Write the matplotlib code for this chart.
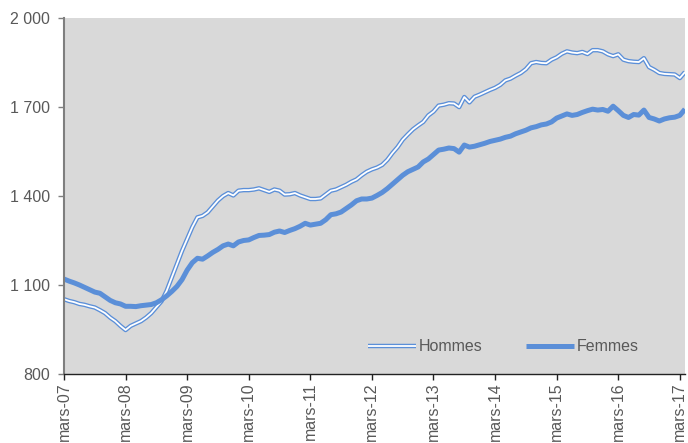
import matplotlib.pyplot as plt
from matplotlib.legend_handler import HandlerTuple

plt.rcParams['font.family'] = ['Liberation Sans', 'DejaVu Sans']

# Monthly values, mars-07 .. avr-17
hommes = [1052, 1046, 1042, 1036, 1033, 1028, 1024, 1015, 1005, 990, 978, 962,
          948, 962, 970, 978, 990, 1005, 1025, 1045, 1080, 1125, 1170, 1215,
          1255, 1295, 1328, 1333, 1345, 1365, 1385, 1400, 1410, 1402, 1418, 1420,
          1420, 1422, 1426, 1420, 1414, 1422, 1418, 1405, 1406, 1410, 1402, 1396,
          1390, 1390, 1392, 1405, 1418, 1422, 1430, 1438, 1448, 1456, 1470, 1482,
          1490, 1496, 1505, 1522, 1545, 1565, 1590, 1608, 1625, 1638, 1650, 1672,
          1685, 1705, 1708, 1713, 1712, 1700, 1734, 1716, 1735, 1742, 1750, 1758,
          1765, 1775, 1790, 1796, 1806, 1815, 1828, 1848, 1852, 1849, 1848, 1860,
          1868, 1880, 1888, 1884, 1882, 1886, 1879, 1892, 1892, 1888, 1878, 1872,
          1878, 1860, 1855, 1853, 1852, 1865, 1835, 1826, 1815, 1812, 1811, 1810,
          1798, 1818]
femmes = [1120, 1113, 1107, 1100, 1092, 1084, 1076, 1072, 1060, 1048, 1040, 1036,
          1028, 1028, 1027, 1030, 1032, 1034, 1040, 1050, 1063, 1078, 1095, 1118,
          1150, 1175, 1190, 1187, 1198, 1210, 1220, 1232, 1238, 1232, 1245, 1250,
          1252, 1260, 1267, 1268, 1270, 1278, 1282, 1277, 1284, 1290, 1298, 1308,
          1302, 1305, 1308, 1320, 1337, 1340, 1346, 1358, 1370, 1384, 1390, 1390,
          1393, 1402, 1412, 1425, 1440, 1455, 1470, 1482, 1490, 1498, 1515, 1525,
          1540, 1555, 1558, 1562, 1560, 1548, 1572, 1565, 1568, 1573, 1578, 1584,
          1588, 1592, 1598, 1602, 1610, 1616, 1622, 1630, 1634, 1640, 1643, 1650,
          1663, 1670, 1677, 1672, 1675, 1682, 1688, 1693, 1690, 1692, 1686, 1703,
          1688, 1672, 1665, 1675, 1673, 1690, 1665, 1660, 1653, 1660, 1664, 1666,
          1672, 1693]
x_labels = ['mars-07', 'mars-08', 'mars-09', 'mars-10', 'mars-11', 'mars-12',
            'mars-13', 'mars-14', 'mars-15', 'mars-16', 'mars-17']
y_ticks = [800, 1100, 1400, 1700, 2000]
y_labels = ['800', '1 100', '1 400', '1 700', '2 000']

blue = '#5b8fd8'
grey_txt = '#595959'
fs = 11.5
months = list(range(len(hommes)))

fig = plt.figure(figsize=(6.88, 4.43), dpi=100)
ax = fig.add_axes([0.093, 0.156, 0.9026, 0.803])
ax.set_facecolor('#d9d9d9')

h_out, = ax.plot(months, hommes, color=blue, lw=3.2, solid_capstyle='butt')
h_in, = ax.plot(months, hommes, color='white', lw=1.3, solid_capstyle='butt')
f_line, = ax.plot(months, femmes, color=blue, lw=3.6, solid_capstyle='butt')

ax.set_xlim(0, len(hommes) - 1)
ax.set_ylim(800, 2000)
ax.set_yticks(y_ticks)
ax.set_yticklabels(y_labels)
ax.set_xticks(range(0, 12 * len(x_labels), 12))
ax.set_xticklabels(x_labels, rotation=90)

for s in ['top', 'right']:
    ax.spines[s].set_visible(False)
ax.spines['left'].set_color('#7f7f7f')
ax.spines['left'].set_linewidth(1.5)
ax.spines['bottom'].set_color('#222222')
ax.spines['bottom'].set_linewidth(1.0)
ax.tick_params(axis='y', length=4, width=1, color='#7f7f7f', labelsize=fs,
               labelcolor=grey_txt, pad=6)
ax.tick_params(axis='x', length=4, width=1, color='#222222', labelsize=fs,
               labelcolor=grey_txt, pad=2)

ax.legend([(h_out, h_in), f_line], ['Hommes', 'Femmes'],
          handler_map={tuple: HandlerTuple(ndivide=1, pad=0)},
          loc='center left', bbox_to_anchor=(0.4895, 0.076), ncol=2, frameon=False,
          borderpad=0, borderaxespad=0,
          handlelength=3.0, columnspacing=2.7, handletextpad=0.2,
          fontsize=fs, labelcolor=grey_txt)

fig.savefig('out.png', dpi=100)
